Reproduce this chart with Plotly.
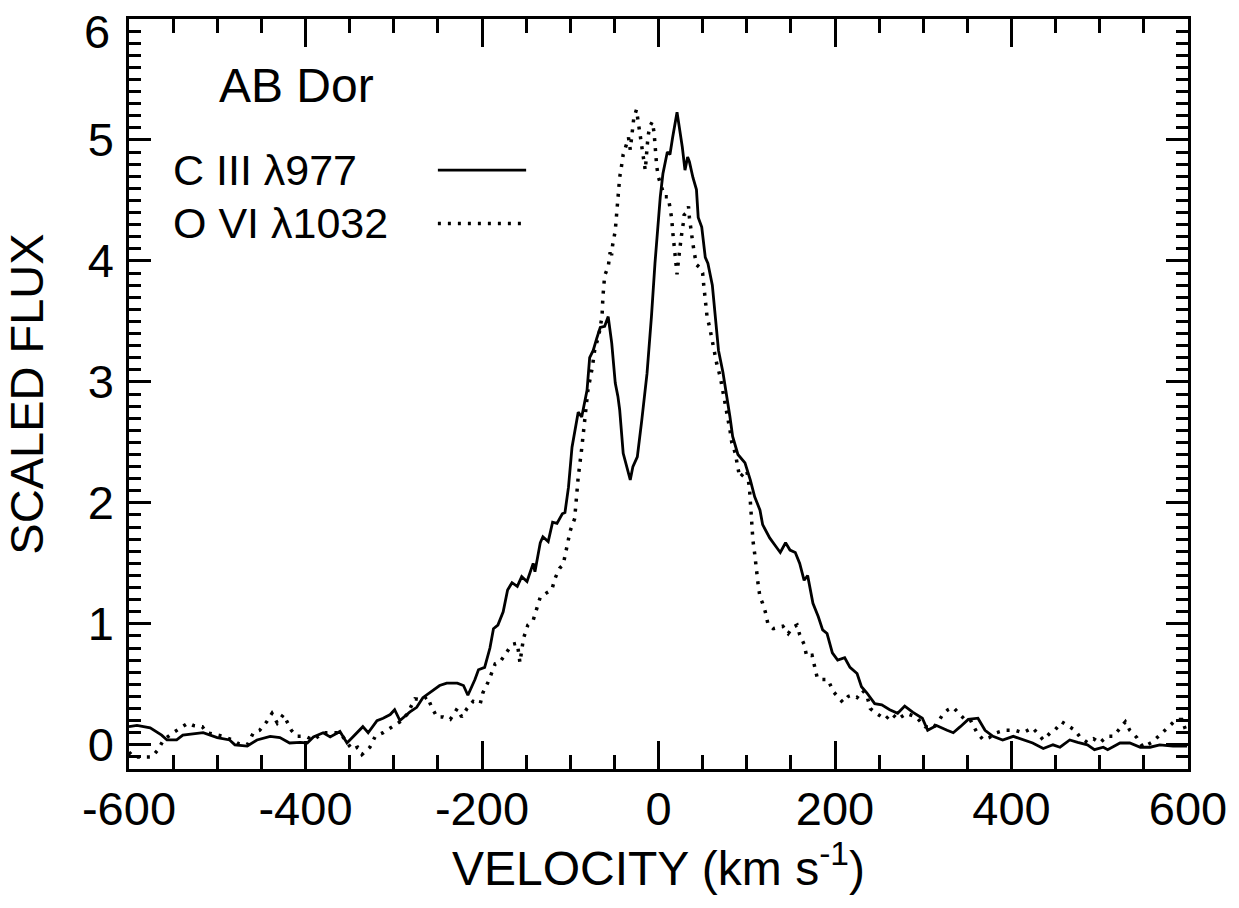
import plotly.graph_objects as go

# C III 977 profile (velocity km/s, scaled flux)
c3_vel = [-600, -591, -576, -563, -557, -546, -539, -516, -500, -486, -480, -466, -455, -440, -429,
          -418, -406, -398, -391, -380, -372, -361, -353, -344, -335, -329, -319, -312, -304, -299,
          -293, -282, -274, -267, -257, -248, -240, -228, -221, -216, -208, -204, -197, -191, -187,
          -182, -176, -171, -166, -160, -155, -149, -142, -140, -134, -131, -125, -120, -115, -109,
          -106, -102, -98, -95, -91, -87, -81, -78, -74, -70, -66, -61, -57, -53, -49,
          -46, -44, -40, -36, -32, -29, -24, -19, -13, -8, -4, 2, 5, 10, 13,
          16, 21, 27, 30, 33, 35, 39, 43, 45, 49, 53, 56, 61, 64, 68,
          73, 77, 81, 84, 90, 98, 104, 109, 115, 118, 126, 132, 138, 144, 149,
          155, 160, 165, 169, 175, 181, 186, 191, 197, 203, 211, 217, 225, 230, 236,
          245, 253, 262, 271, 279, 288, 299, 305, 315, 327, 334, 342, 351, 362, 370,
          379, 390, 402, 413, 424, 436, 447, 455, 466, 475, 486, 494, 504, 509, 523,
          534, 546, 557, 568, 583, 599]
c3_flux = [0.15, 0.16, 0.14, 0.08, 0.04, 0.04, 0.08, 0.10, 0.06, 0.04, 0.00, -0.01, 0.04, 0.07, 0.06,
           0.015, 0.02, 0.015, 0.065, 0.10, 0.065, 0.11, 0.015, 0.08, 0.15, 0.10, 0.20, 0.22, 0.25, 0.29,
           0.20, 0.27, 0.31, 0.39, 0.44, 0.49, 0.51, 0.51, 0.49, 0.41, 0.54, 0.62, 0.64, 0.80, 0.96,
           0.99, 1.10, 1.28, 1.34, 1.31, 1.39, 1.35, 1.50, 1.43, 1.67, 1.72, 1.68, 1.84, 1.83, 1.91,
           1.92, 2.13, 2.46, 2.60, 2.75, 2.71, 2.93, 3.20, 3.26, 3.36, 3.45, 3.46, 3.54, 3.32, 2.99,
           2.88, 2.77, 2.41, 2.30, 2.19, 2.30, 2.38, 2.68, 3.07, 3.54, 3.98, 4.53, 4.72, 4.90, 4.88,
           5.02, 5.23, 4.94, 4.75, 4.86, 4.82, 4.69, 4.59, 4.36, 4.28, 4.03, 3.98, 3.80, 3.54, 3.26,
           3.08, 2.91, 2.71, 2.55, 2.40, 2.33, 2.19, 2.05, 1.94, 1.82, 1.71, 1.65, 1.59, 1.67, 1.61,
           1.59, 1.50, 1.36, 1.40, 1.17, 1.06, 0.95, 0.92, 0.76, 0.70, 0.72, 0.64, 0.59, 0.48, 0.43,
           0.34, 0.33, 0.29, 0.26, 0.32, 0.27, 0.22, 0.12, 0.16, 0.12, 0.10, 0.15, 0.21, 0.22, 0.12,
           0.07, 0.04, 0.07, 0.04, 0.015, -0.03, 0.00, -0.02, 0.04, 0.02, 0.00, -0.04, -0.02, -0.04, 0.015,
           0.015, -0.02, -0.02, 0.00, -0.01, -0.01]

# O VI 1032 profile
o6_vel = [-600, -595, -584, -574, -567, -561, -550, -539, -533, -527, -517, -512, -500, -493, -483,
          -476, -466, -459, -452, -444, -438, -432, -425, -421, -416, -410, -400, -391, -380, -369,
          -361, -353, -347, -341, -336, -327, -321, -312, -301, -293, -285, -276, -268, -262, -257,
          -251, -244, -236, -228, -223, -217, -210, -202, -199, -193, -185, -180, -174, -166, -160,
          -157, -153, -148, -142, -138, -134, -126, -121, -117, -112, -108, -104, -100, -95, -91,
          -87, -83, -80, -75, -72, -68, -64, -63, -61, -57, -55, -53, -52, -49, -47,
          -46, -44, -42, -40, -36, -34, -32, -30, -28, -25, -23, -21, -19, -17, -15,
          -13, -12, -10, -7, -5, -4, -3, -2, 0, 2, 5, 7, 11, 13, 15,
          16, 17, 19, 20, 21, 23, 25, 26, 28, 29, 32, 34, 35, 37, 39,
          41, 43, 46, 50, 51, 53, 55, 58, 60, 63, 66, 70, 73, 75, 79,
          81, 83, 87, 90, 92, 100, 103, 104, 105, 107, 109, 111, 113, 115, 118,
          121, 124, 130, 135, 141, 147, 152, 157, 160, 165, 168, 174, 177, 180, 185,
          192, 198, 203, 209, 215, 219, 225, 231, 236, 240, 245, 257, 264, 271, 281,
          292, 302, 311, 317, 322, 328, 334, 339, 347, 353, 361, 368, 375, 383, 392,
          404, 413, 424, 436, 444, 449, 457, 464, 472, 478, 486, 493, 500, 508, 515,
          521, 529, 534, 542, 549, 559, 565, 571, 579, 587, 593, 597]
o6_flux = [-0.06, -0.10, -0.10, -0.10, -0.04, 0.04, 0.10, 0.15, 0.18, 0.16, 0.15, 0.10, 0.08, 0.07, 0.04,
           0.01, 0.00, 0.10, 0.12, 0.19, 0.26, 0.18, 0.25, 0.19, 0.12, 0.07, 0.07, 0.04, 0.10, 0.10,
           0.10, 0.02, -0.04, -0.02, -0.08, -0.02, 0.07, 0.10, 0.15, 0.19, 0.25, 0.38, 0.37, 0.40, 0.31,
           0.23, 0.23, 0.21, 0.30, 0.23, 0.30, 0.36, 0.34, 0.43, 0.52, 0.67, 0.68, 0.74, 0.83, 0.84,
           0.68, 0.88, 0.99, 1.03, 1.13, 1.22, 1.26, 1.28, 1.38, 1.46, 1.49, 1.62, 1.77, 1.87, 2.21,
           2.45, 2.71, 2.93, 3.12, 3.28, 3.37, 3.54, 3.70, 3.88, 3.95, 4.06, 4.06, 4.13, 4.25, 4.42,
           4.59, 4.69, 4.78, 4.88, 4.97, 5.02, 4.92, 5.08, 5.18, 5.25, 5.14, 5.07, 4.93, 4.83, 4.75,
           4.93, 5.02, 5.11, 5.15, 5.06, 4.96, 4.88, 4.78, 4.69, 4.64, 4.59, 4.53, 4.53, 4.45, 4.35,
           4.25, 4.17, 4.06, 3.98, 3.89, 4.03, 4.12, 4.21, 4.31, 4.38, 4.40, 4.45, 4.36, 4.23, 4.14,
           4.05, 3.97, 3.95, 3.90, 3.82, 3.65, 3.54, 3.45, 3.37, 3.26, 3.15, 3.04, 2.93, 2.82, 2.70,
           2.60, 2.50, 2.41, 2.29, 2.21, 2.27, 2.13, 2.02, 1.88, 1.69, 1.58, 1.42, 1.32, 1.22, 1.17,
           1.10, 1.00, 0.96, 0.97, 0.98, 0.92, 0.97, 0.99, 0.91, 0.83, 0.73, 0.74, 0.64, 0.55, 0.54,
           0.54, 0.44, 0.40, 0.35, 0.40, 0.41, 0.39, 0.45, 0.41, 0.30, 0.27, 0.21, 0.26, 0.21, 0.26,
           0.23, 0.15, 0.14, 0.19, 0.25, 0.29, 0.31, 0.27, 0.21, 0.21, 0.10, 0.04, 0.06, 0.10, 0.12,
           0.12, 0.10, 0.14, 0.04, 0.10, 0.12, 0.19, 0.16, 0.12, 0.06, 0.02, 0.05, 0.015, 0.07, 0.07,
           0.12, 0.19, 0.12, 0.06, -0.02, 0.02, 0.06, 0.10, 0.16, 0.21, 0.21, 0.13]

x_ticks = [-600, -400, -200, 0, 200, 400, 600]
y_ticks = [0, 1, 2, 3, 4, 5, 6]
line_labels = ["C III \u03bb977", "O VI \u03bb1032"]

FONT = "Liberation Sans"
DOT = "3px,7px"

fig = go.Figure()

fig.add_trace(go.Scatter(x=c3_vel, y=c3_flux, mode="lines",
                         line=dict(color="black", width=2.8), showlegend=False))
fig.add_trace(go.Scatter(x=o6_vel, y=o6_flux, mode="lines",
                         line=dict(color="black", width=3.5, dash=DOT), showlegend=False))

# hand-made legend: label on the left, line sample on the right
fig.add_annotation(x=-500, y=5.45, xref="x", yref="y", text="AB Dor", showarrow=False,
                   xanchor="left", yanchor="middle", font=dict(size=48))
for i, (label, dash) in enumerate(zip(line_labels, ["solid", DOT])):
    yy = 4.75 - 0.44 * i
    fig.add_annotation(x=-552, y=yy, xref="x", yref="y", text=label, showarrow=False,
                       xanchor="left", yanchor="middle", font=dict(size=43))
    fig.add_shape(type="line", xref="x", yref="y", x0=-250, x1=-150, y0=yy, y1=yy,
                  line=dict(color="black", width=2.8 if dash == "solid" else 3.5, dash=dash))

# the top y label sits a little below its tick (as in the original), so draw it by hand
y_labels = [str(v) for v in y_ticks]
fig.add_annotation(x=0, y=y_ticks[-1], xref="paper", yref="y", text=y_labels[-1],
                   showarrow=False, xanchor="right", yanchor="top", xshift=-17, yshift=16,
                   font=dict(size=47))
y_labels[-1] = ""

axis_common = dict(showline=True, linecolor="black", linewidth=2.5, mirror="ticks",
                   ticks="inside", tickwidth=2.5, tickcolor="black", showgrid=False,
                   zeroline=False, tickfont=dict(size=47), automargin=False,
                   ticklabeloverflow="allow")

fig.update_xaxes(range=[-600, 600], tickmode="array", tickvals=x_ticks,
                 ticktext=[str(v) for v in x_ticks], ticklen=28, ticklabelstandoff=-3,
                 minor=dict(tickmode="linear", tick0=0, dtick=50, ticklen=14, tickwidth=2.5,
                            ticks="inside", tickcolor="black"),
                 title=dict(text="VELOCITY (km s<sup>-1</sup>)", font=dict(size=48), standoff=11),
                 **axis_common)
fig.update_yaxes(range=[-0.2, 6], tickmode="array", tickvals=y_ticks,
                 ticktext=y_labels, ticklen=22, ticklabelstandoff=3,
                 minor=dict(tickmode="linear", tick0=0, dtick=0.1, ticklen=12, tickwidth=2.5,
                            ticks="inside", tickcolor="black"),
                 title=dict(text="SCALED FLUX", font=dict(size=47), standoff=36),
                 **axis_common)

fig.update_layout(width=1239, height=908, margin=dict(l=129, r=51, t=19, b=139),
                  paper_bgcolor="white", plot_bgcolor="white",
                  font=dict(family=FONT, color="black"))

# drop the default page margin so the figure sits at the window origin
fig.write_html("out.html", config={"displayModeBar": False},
               post_script="document.body.style.margin='0';")
